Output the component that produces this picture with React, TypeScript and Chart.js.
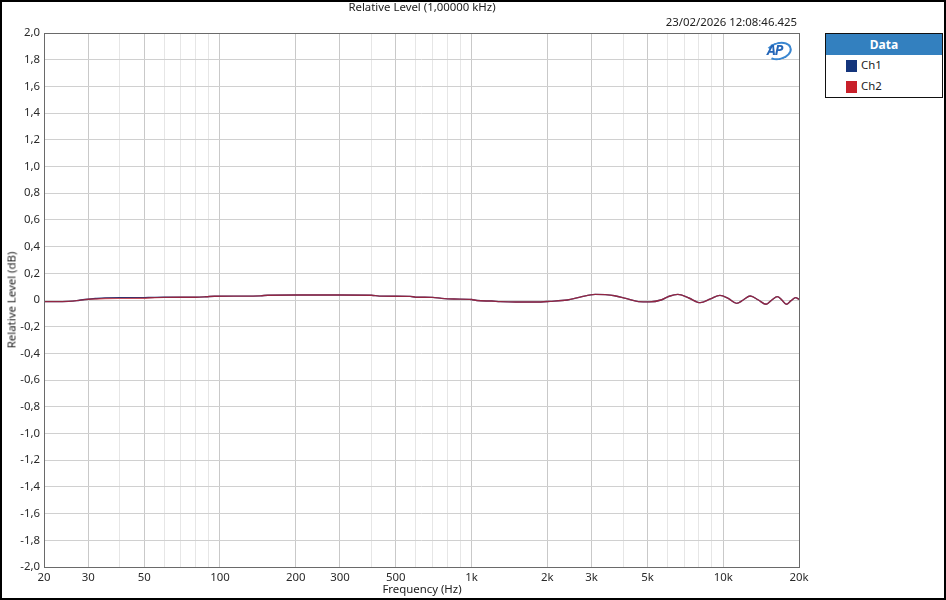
import { useEffect, useRef } from 'react';
import { Chart, registerables } from 'chart.js';

Chart.register(...registerables);

// frequency points (Hz) and relative level (dB)
const freqs = [
  20, 22, 25, 27, 29, 32, 35, 40, 50, 53, 60, 80, 88, 95, 120, 145, 155, 200, 300, 400, 430, 500, 570, 600, 700,
  760, 850, 1000, 1050, 1200, 1300, 1500, 1800, 2050, 2400, 2700, 3100, 3400, 3700, 4100, 4600, 5100, 5700, 6100,
  6600, 7300, 8100, 8900, 9700, 10500, 11300, 12000, 12800, 13800, 14800, 15600, 16400, 17100, 17800, 18600,
  19400, 20000,
];
const ch2Level = [
  -0.012, -0.012, -0.01, -0.005, 0.003, 0.008, 0.011, 0.012, 0.013, 0.017, 0.02, 0.021, 0.024, 0.028, 0.029,
  0.031, 0.036, 0.037, 0.037, 0.036, 0.029, 0.028, 0.027, 0.021, 0.02, 0.012, 0.007, 0.004, -0.004, -0.008,
  -0.012, -0.015, -0.015, -0.01, 0.0, 0.022, 0.042, 0.04, 0.032, 0.012, -0.012, -0.014, 0.002, 0.028, 0.042,
  0.015, -0.02, 0.008, 0.035, 0.01, -0.025, 0.0, 0.03, 0.0, -0.032, 0.0, 0.025, 0.0, -0.032, -0.005, 0.018, 0.005,
];
const ch1Level = [
  -0.012, -0.012, -0.01, -0.005, 0.004, 0.011, 0.016, 0.018, 0.018, 0.019, 0.021, 0.021, 0.024, 0.028, 0.029,
  0.031, 0.036, 0.037, 0.037, 0.036, 0.029, 0.028, 0.027, 0.021, 0.02, 0.012, 0.007, 0.004, -0.004, -0.008,
  -0.012, -0.015, -0.015, -0.01, 0.0, 0.022, 0.042, 0.04, 0.032, 0.012, -0.012, -0.014, 0.002, 0.028, 0.042,
  0.015, -0.02, 0.008, 0.035, 0.01, -0.025, 0.0, 0.03, 0.0, -0.032, 0.0, 0.025, 0.0, -0.032, -0.005, 0.018, 0.005,
];

const majorTicks = [20, 30, 50, 100, 200, 300, 500, 1000, 2000, 3000, 5000, 10000, 20000];
const tickLabels = ['20', '30', '50', '100', '200', '300', '500', '1k', '2k', '3k', '5k', '10k', '20k'];
const minorTicks = [40, 60, 70, 80, 90, 400, 600, 700, 800, 900, 4000, 6000, 7000, 8000, 9000];
const yTicks = [-2, -1.8, -1.6, -1.4, -1.2, -1, -0.8, -0.6, -0.4, -0.2, 0, 0.2, 0.4, 0.6, 0.8, 1, 1.2, 1.4, 1.6, 1.8, 2];

const FONT = '"Noto Sans", "DejaVu Sans", sans-serif';
const FS = 11.4;

const framePlugin = {
  id: 'frame',
  afterDraw(chart: Chart) {
    const { ctx, chartArea } = chart;
    ctx.save();
    ctx.strokeStyle = '#6a6a6a';
    ctx.lineWidth = 1;
    ctx.strokeRect(
      Math.round(chartArea.left) + 0.5,
      Math.round(chartArea.top) + 0.5,
      Math.round(chartArea.right - chartArea.left),
      Math.round(chartArea.bottom - chartArea.top)
    );
    ctx.restore();
  },
};

function LevelChart() {
  const canvasRef = useRef<HTMLCanvasElement>(null);
  const chartRef = useRef<Chart | null>(null);

  useEffect(() => {
    if (!canvasRef.current) return;
    if (chartRef.current) chartRef.current.destroy();
    const ctx = canvasRef.current.getContext('2d');
    if (!ctx) return;

    const allTicks = [...majorTicks, ...minorTicks].sort((a, b) => a - b);

    chartRef.current = new Chart(ctx, {
      type: 'line',
      data: {
        datasets: [
          {
            label: 'Ch1',
            data: freqs.map((f, i) => ({ x: f, y: ch1Level[i] })),
            borderColor: '#14357c',
            borderWidth: 1.4,
            pointRadius: 0,
            cubicInterpolationMode: 'monotone',
            order: 2,
          },
          {
            label: 'Ch2',
            data: freqs.map((f, i) => ({ x: f, y: ch2Level[i] })),
            borderColor: 'rgba(200,32,42,0.7)',
            borderWidth: 1.4,
            pointRadius: 0,
            cubicInterpolationMode: 'monotone',
            order: 1,
          },
        ],
      },
      options: {
        responsive: false,
        animation: false,
        layout: { padding: { top: 33, right: 147, left: 0, bottom: 0 } },
        plugins: { legend: { display: false }, tooltip: { enabled: false } },
        scales: {
          x: {
            type: 'logarithmic',
            min: 20,
            max: 20000,
            afterBuildTicks: (scale: any) => {
              scale.ticks = allTicks.map((v) => ({ value: v }));
            },
            afterFit: (scale: any) => {
              scale.height = 33;
            },
            grid: {
              color: (c: any) => (c.tick && majorTicks.includes(c.tick.value) ? '#c9c9c9' : '#e6e6e6'),
              drawTicks: false,
            },
            border: { display: false },
            ticks: {
              autoSkip: false,
              maxRotation: 0,
              padding: 4,
              color: '#2a2a2a',
              font: { family: FONT, size: FS },
              callback: (v: any) => {
                const i = majorTicks.indexOf(Number(v));
                return i >= 0 ? tickLabels[i] : '';
              },
            },
          },
          y: {
            type: 'linear',
            min: -2,
            max: 2,
            afterBuildTicks: (scale: any) => {
              scale.ticks = yTicks.map((v) => ({ value: v }));
            },
            afterFit: (scale: any) => {
              scale.width = 44;
            },
            grid: { color: '#d0d0d0', drawTicks: false },
            border: { display: false },
            ticks: {
              padding: 4,
              color: '#2a2a2a',
              font: { family: FONT, size: FS },
              callback: (v: any) => (Number(v) === 0 ? '0' : Number(v).toFixed(1).replace('.', ',')),
            },
          },
        },
      },
      plugins: [framePlugin],
    });

    return () => {
      if (chartRef.current) chartRef.current.destroy();
      chartRef.current = null;
    };
  }, []);

  return <canvas ref={canvasRef} width={946} height={600} style={{ position: 'absolute', left: 0, top: 0 }} />;
}

export default function App() {
  const text = { position: 'absolute' as const, fontFamily: FONT, fontSize: FS, color: '#222', whiteSpace: 'nowrap' as const };
  return (
    <div style={{ position: 'fixed', left: 0, top: 0, width: 946, height: 600, background: '#fff', overflow: 'hidden' }}>
      <LevelChart />
      <div style={{ ...text, left: 322, width: 200, top: -1, textAlign: 'center' }}>Relative Level (1,00000 kHz)</div>
      <div style={{ ...text, right: 149, top: 14 }}>23/02/2026 12:08:46.425</div>
      <div style={{ ...text, left: 0, width: 844, top: 581, textAlign: 'center' }}>Frequency (Hz)</div>
      <div
        style={{
          ...text,
          left: 11,
          top: 300,
          transform: 'translate(-50%, -50%) rotate(-90deg)',
        }}
      >
        Relative Level (dB)
      </div>
      {/* AP logo */}
      <div
        style={{
          position: 'absolute',
          left: 766,
          top: 42,
          width: 22,
          height: 14,
          border: '2px solid #3a86d0',
          borderLeftColor: 'transparent',
          borderRadius: '50%',
          transform: 'rotate(-15deg)',
        }}
      />
      <div
        style={{
          ...text,
          left: 767,
          top: 40,
          fontSize: 14,
          fontWeight: 700,
          fontStyle: 'italic',
          color: '#2466b8',
          letterSpacing: -1,
        }}
      >
        AP
      </div>
      {/* legend */}
      <div
        style={{
          position: 'absolute',
          left: 825,
          top: 33,
          width: 116,
          height: 63,
          border: '1px solid #111',
          background: '#fff',
        }}
      >
        <div
          style={{
            height: 21,
            background: '#3380bf',
            color: '#fff',
            fontFamily: FONT,
            fontWeight: 700,
            fontSize: 12,
            textAlign: 'center',
            lineHeight: '21px',
          }}
        >
          Data
        </div>
        <div style={{ position: 'absolute', left: 20, top: 26, width: 11, height: 12, background: '#14357c' }} />
        <div style={{ ...text, left: 35, top: 23 }}>Ch1</div>
        <div style={{ position: 'absolute', left: 20, top: 47, width: 11, height: 12, background: '#c8202a' }} />
        <div style={{ ...text, left: 35, top: 44 }}>Ch2</div>
      </div>
      <div
        style={{
          position: 'absolute',
          left: 0,
          top: 0,
          width: 946,
          height: 600,
          boxSizing: 'border-box',
          border: '2px solid #000',
          pointerEvents: 'none',
        }}
      />
    </div>
  );
}
